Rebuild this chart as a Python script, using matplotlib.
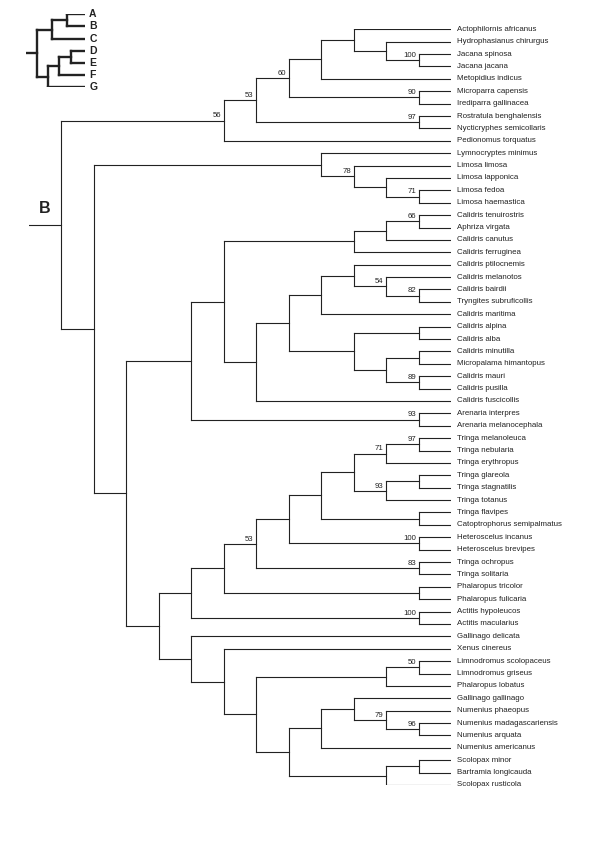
import numpy as np
import matplotlib
matplotlib.use("Agg")
import matplotlib.pyplot as plt

plt.rcParams['font.family'] = ['Liberation Sans', 'DejaVu Sans']

# main tree, branch lengths in cladogram steps, support values as node labels
clade_jacanas = ("(((((Actophilornis_africanus:3,(Hydrophasianus_chirurgus:2,"
                 "(Jacana_spinosa:1,Jacana_jacana:1)100:1):1):1,Metopidius_indicus:4):1,"
                 "(Microparra_capensis:1,Irediparra_gallinacea:1)90:4)60:1,"
                 "(Rostratula_benghalensis:1,Nycticryphes_semicollaris:1)97:5)53:1,"
                 "Pedionomus_torquatus:7)56:5")
clade_limosa = ("(Lymnocryptes_minimus:4,(Limosa_limosa:3,(Limosa_lapponica:2,"
                "(Limosa_fedoa:1,Limosa_haemastica:1)71:1):1)78:1):7")
clade_calidris = ("(((((Calidris_tenuirostris:1,Aphriza_virgata:1)66:1,Calidris_canutus:2):1,"
                  "Calidris_ferruginea:3):4,"
                  "((((Calidris_ptilocnemis:3,(Calidris_melanotos:2,"
                  "(Calidris_bairdii:1,Tryngites_subruficollis:1)82:1)54:1):1,Calidris_maritima:4):1,"
                  "((Calidris_alpina:1,Calidris_alba:1):2,((Calidris_minutilla:1,"
                  "Micropalama_himantopus:1):1,(Calidris_mauri:1,Calidris_pusilla:1)89:1):1):2):1,"
                  "Calidris_fuscicollis:6):1):1,"
                  "(Arenaria_interpres:1,Arenaria_melanocephala:1)93:7):2")
clade_tringa = ("((((((((Tringa_melanoleuca:1,Tringa_nebularia:1)97:1,Tringa_erythropus:2)71:1,"
                "((Tringa_glareola:1,Tringa_stagnatilis:1):1,Tringa_totanus:2)93:1):1,"
                "(Tringa_flavipes:1,Catoptrophorus_semipalmatus:1):3):1,"
                "(Heteroscelus_incanus:1,Heteroscelus_brevipes:1)100:4):1,"
                "(Tringa_ochropus:1,Tringa_solitaria:1)83:5)53:1,"
                "(Phalaropus_tricolor:1,Phalaropus_fulicaria:1):6):1,"
                "(Actitis_hypoleucos:1,Actitis_macularius:1)100:7):1")
clade_scolopax = ("(Gallinago_delicata:8,(Xenus_cinereus:7,"
                  "(((Limnodromus_scolopaceus:1,Limnodromus_griseus:1)50:1,Phalaropus_lobatus:2):4,"
                  "(((Gallinago_gallinago:3,(Numenius_phaeopus:2,"
                  "(Numenius_madagascariensis:1,Numenius_arquata:1)96:1)79:1):1,Numenius_americanus:4):1,"
                  "((Scolopax_minor:1,Bartramia_longicauda:1):1,Scolopax_rusticola:2):3):1):1):1):1")

main_tree = ("(" + clade_jacanas + ",(" + clade_limosa + ",(" + clade_calidris +
             ",(" + clade_tringa + "," + clade_scolopax + "):1):1):1):1;")
root_label = "B"

# small key tree in the corner
key_tree = "(((A:18,B:18):15,C:33):15,(((D:14,E:14):12,F:26):11,G:37):11):11;"


def parse_newick(s):
    s = "".join(s.split())
    pos = 0

    def node():
        nonlocal pos
        children = []
        if s[pos] == '(':
            pos += 1
            children.append(node())
            while s[pos] == ',':
                pos += 1
                children.append(node())
            pos += 1
        start = pos
        while s[pos] not in ':,);':
            pos += 1
        name = s[start:pos]
        length = 0.0
        if s[pos] == ':':
            pos += 1
            start = pos
            while s[pos] not in ',);':
                pos += 1
            length = float(s[start:pos])
        return {'name': name, 'length': length, 'children': children}

    return node()


def layout(n, x0, counter):
    n['x0'] = x0
    n['x'] = x0 + n['length']
    if not n['children']:
        n['y'] = counter[0]
        counter[0] += 1
    else:
        for c in n['children']:
            layout(c, n['x'], counter)
        n['y'] = np.mean([c['y'] for c in n['children']])


def walk(n):
    yield n
    for c in n['children']:
        for m in walk(c):
            yield m


def draw_tree(ax, root, lw, color, tip_size, tip_weight, tip_pad, support_size):
    nodes = list(walk(root))
    ax.hlines([n['y'] for n in nodes], [n['x0'] for n in nodes], [n['x'] for n in nodes],
              colors=color, linewidth=lw, capstyle='projecting')
    inner = [n for n in nodes if n['children']]
    ax.vlines([n['x'] for n in inner],
              [min(c['y'] for c in n['children']) for n in inner],
              [max(c['y'] for c in n['children']) for n in inner],
              colors=color, linewidth=lw, capstyle='projecting')
    for n in nodes:
        if not n['children']:
            ax.annotate(n['name'].replace('_', ' '), (n['x'], n['y']), xytext=(tip_pad, 0),
                        textcoords='offset points', ha='left', va='center',
                        fontsize=tip_size, fontweight=tip_weight, color=color,
                        annotation_clip=False)
        elif n['name'] and support_size:
            ax.annotate(n['name'], (n['x'], n['y']), xytext=(-1.8, 0.9),
                        textcoords='offset points', ha='right', va='bottom',
                        fontsize=support_size, color=color, annotation_clip=False)


fig = plt.figure(figsize=(6, 8.49), dpi=100)

tree = parse_newick(main_tree)
n_tips = [0]
layout(tree, 0.0, n_tips)
depth = max(n['x'] for n in walk(tree))

ax = fig.add_axes([28.5 / 600, 1 - 785 / 849, 422.5 / 600, 755.7 / 849])
draw_tree(ax, tree, 0.8, '#222222', 5.7, 'normal', 4.3, 5.6)
ax.set_xlim(0, depth)
ax.set_ylim(n_tips[0] - 1, 0)
ax.annotate(root_label, (tree['length'] / 2, tree['y']), xytext=(0, 6),
            textcoords='offset points', ha='center', va='bottom',
            fontsize=11.5, fontweight='bold', color='#222222')
ax.axis('off')

key = parse_newick(key_tree)
k_tips = [0]
layout(key, 0.0, k_tips)
k_depth = max(n['x'] for n in walk(key))

ax2 = fig.add_axes([26 / 600, 1 - 87.3 / 849, 59 / 600, 73 / 849])
draw_tree(ax2, key, 1.7, '#222222', 7.5, 'bold', 3.0, 0)
ax2.set_xlim(0, k_depth)
ax2.set_ylim(k_tips[0] - 1, 0)
ax2.axis('off')

fig.savefig('out.png', dpi=100, facecolor='white')
